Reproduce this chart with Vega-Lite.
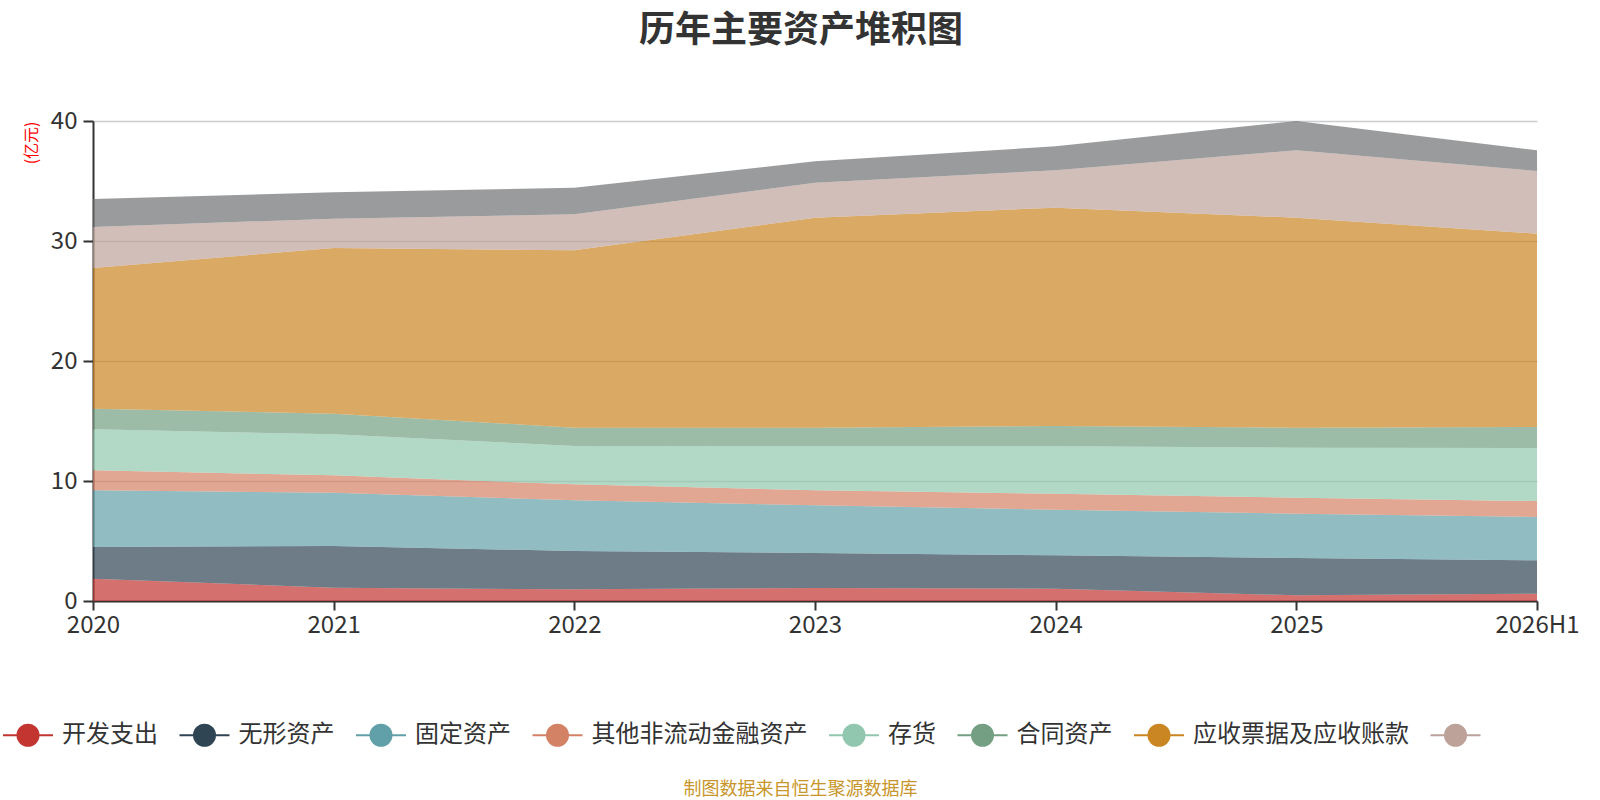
{
  "$schema": "https://vega.github.io/schema/vega-lite/v6.json",
  "autosize": "none",
  "width": 1444,
  "height": 480,
  "padding": {"left": 93, "top": 121, "right": 63, "bottom": 199},
  "background": "white",
  "config": {
    "font": "Noto Sans CJK SC",
    "view": {"stroke": null}
  },
  "title": {
    "text": "历年主要资产堆积图",
    "fontSize": 36,
    "fontWeight": "bold",
    "color": "#333333",
    "anchor": "middle",
    "dx": -14,
    "offset": 59
  },
  "data": {
    "values": [
      {"year": "2020", "item": "开发支出", "value": 1.86},
      {"year": "2020", "item": "无形资产", "value": 2.64},
      {"year": "2020", "item": "固定资产", "value": 4.72},
      {"year": "2020", "item": "其他非流动金融资产", "value": 1.67},
      {"year": "2020", "item": "存货", "value": 3.42},
      {"year": "2020", "item": "合同资产", "value": 1.72},
      {"year": "2020", "item": "应收票据及应收账款", "value": 11.72},
      {"year": "2020", "item": "交易性金融资产", "value": 3.42},
      {"year": "2020", "item": "货币资金", "value": 2.33},
      {"year": "2021", "item": "开发支出", "value": 1.11},
      {"year": "2021", "item": "无形资产", "value": 3.47},
      {"year": "2021", "item": "固定资产", "value": 4.45},
      {"year": "2021", "item": "其他非流动金融资产", "value": 1.44},
      {"year": "2021", "item": "存货", "value": 3.42},
      {"year": "2021", "item": "合同资产", "value": 1.72},
      {"year": "2021", "item": "应收票据及应收账款", "value": 13.81},
      {"year": "2021", "item": "交易性金融资产", "value": 2.44},
      {"year": "2021", "item": "货币资金", "value": 2.2},
      {"year": "2022", "item": "开发支出", "value": 0.97},
      {"year": "2022", "item": "无形资产", "value": 3.2},
      {"year": "2022", "item": "固定资产", "value": 4.22},
      {"year": "2022", "item": "其他非流动金融资产", "value": 1.33},
      {"year": "2022", "item": "存货", "value": 3.2},
      {"year": "2022", "item": "合同资产", "value": 1.52},
      {"year": "2022", "item": "应收票据及应收账款", "value": 14.78},
      {"year": "2022", "item": "交易性金融资产", "value": 3.0},
      {"year": "2022", "item": "货币资金", "value": 2.22},
      {"year": "2023", "item": "开发支出", "value": 1.08},
      {"year": "2023", "item": "无形资产", "value": 2.92},
      {"year": "2023", "item": "固定资产", "value": 3.97},
      {"year": "2023", "item": "其他非流动金融资产", "value": 1.25},
      {"year": "2023", "item": "存货", "value": 3.67},
      {"year": "2023", "item": "合同资产", "value": 1.55},
      {"year": "2023", "item": "应收票据及应收账款", "value": 17.5},
      {"year": "2023", "item": "交易性金融资产", "value": 2.92},
      {"year": "2023", "item": "货币资金", "value": 1.78},
      {"year": "2024", "item": "开发支出", "value": 1.03},
      {"year": "2024", "item": "无形资产", "value": 2.78},
      {"year": "2024", "item": "固定资产", "value": 3.8},
      {"year": "2024", "item": "其他非流动金融资产", "value": 1.33},
      {"year": "2024", "item": "存货", "value": 3.95},
      {"year": "2024", "item": "合同资产", "value": 1.69},
      {"year": "2024", "item": "应收票据及应收账款", "value": 18.2},
      {"year": "2024", "item": "交易性金融资产", "value": 3.11},
      {"year": "2024", "item": "货币资金", "value": 2.0},
      {"year": "2025", "item": "开发支出", "value": 0.47},
      {"year": "2025", "item": "无形资产", "value": 3.11},
      {"year": "2025", "item": "固定资产", "value": 3.7},
      {"year": "2025", "item": "其他非流动金融资产", "value": 1.33},
      {"year": "2025", "item": "存货", "value": 4.17},
      {"year": "2025", "item": "合同资产", "value": 1.66},
      {"year": "2025", "item": "应收票据及应收账款", "value": 17.5},
      {"year": "2025", "item": "交易性金融资产", "value": 5.62},
      {"year": "2025", "item": "货币资金", "value": 2.44},
      {"year": "2026H1", "item": "开发支出", "value": 0.61},
      {"year": "2026H1", "item": "无形资产", "value": 2.78},
      {"year": "2026H1", "item": "固定资产", "value": 3.61},
      {"year": "2026H1", "item": "其他非流动金融资产", "value": 1.33},
      {"year": "2026H1", "item": "存货", "value": 4.42},
      {"year": "2026H1", "item": "合同资产", "value": 1.75},
      {"year": "2026H1", "item": "应收票据及应收账款", "value": 16.11},
      {"year": "2026H1", "item": "交易性金融资产", "value": 5.22},
      {"year": "2026H1", "item": "货币资金", "value": 1.73}
    ]
  },
  "transform": [
    {"calculate": "indexof(['开发支出', '无形资产', '固定资产', '其他非流动金融资产', '存货', '合同资产', '应收票据及应收账款', '交易性金融资产', '货币资金'], datum.item)", "as": "stackOrder"}
  ],
  "mark": {"type": "area", "opacity": 0.7, "interpolate": "linear"},
  "encoding": {
    "x": {
      "field": "year",
      "type": "ordinal",
      "scale": {"type": "point", "padding": 0},
      "axis": {
        "title": "制图数据来自恒生聚源数据库",
        "titleFontSize": 18,
        "titleFontWeight": "normal",
        "titleColor": "#c8962a",
        "titleX": 707,
        "titleY": 188,
        "titleAlign": "center",
        "titleBaseline": "middle",
        "labelAngle": 0,
        "labelFontSize": 24,
        "labelColor": "#333333",
        "labelPadding": 3,
        "labelOverlap": false,
        "domainColor": "#333333",
        "domainWidth": 2,
        "tickColor": "#333333",
        "tickWidth": 2,
        "tickSize": 9,
        "grid": false
      }
    },
    "y": {
      "field": "value",
      "type": "quantitative",
      "stack": "zero",
      "scale": {"domain": [0, 40], "nice": false},
      "axis": {
        "title": "(亿元)",
        "titleFontSize": 16,
        "titleFontWeight": "normal",
        "titleColor": "#ff0000",
        "titleAngle": -90,
        "titleX": -62,
        "titleY": 0,
        "titleAlign": "right",
        "titleBaseline": "middle",
        "values": [0, 10, 20, 30, 40],
        "labelFontSize": 24,
        "labelColor": "#333333",
        "labelPadding": 6,
        "domainColor": "#333333",
        "domainWidth": 2,
        "tickColor": "#333333",
        "tickWidth": 2,
        "tickSize": 10,
        "grid": true,
        "gridColor": "#cccccc",
        "gridWidth": 1.5
      }
    },
    "order": {"field": "stackOrder", "type": "quantitative", "sort": "ascending"},
    "color": {
      "field": "item",
      "type": "nominal",
      "sort": ["开发支出", "无形资产", "固定资产", "其他非流动金融资产", "存货", "合同资产", "应收票据及应收账款", "交易性金融资产", "货币资金"],
      "scale": {
        "domain": ["开发支出", "无形资产", "固定资产", "其他非流动金融资产", "存货", "合同资产", "应收票据及应收账款", "交易性金融资产", "货币资金"],
        "range": ["#c23531", "#2f4554", "#61a0a8", "#d48265", "#91c7ae", "#749f83", "#ca8622", "#bda29a", "#6e7074"]
      },
      "legend": {
        "orient": "none",
        "direction": "horizontal",
        "legendX": -91,
        "legendY": 588,
        "title": null,
        "padding": 0,
        "values": ["开发支出", "无形资产", "固定资产", "其他非流动金融资产", "存货", "合同资产", "应收票据及应收账款", "交易性金融资产"],
        "labelExpr": "datum.label == '交易性金融资产' ? '' : datum.label",
        "symbolType": "M-1,0L1,0M0.42,0A0.42,0.42,0,1,1,-0.42,0A0.42,0.42,0,1,1,0.42,0Z",
        "symbolSize": 2500,
        "symbolOpacity": 1,
        "symbolStrokeWidth": 2,
        "labelFontSize": 24,
        "labelColor": "#333333",
        "labelOffset": 8,
        "labelLimit": 0,
        "columnPadding": 17.5,
        "encode": {
          "symbols": {
            "update": {
              "stroke": {"scale": "color", "field": "value"},
              "strokeWidth": {"value": 2},
              "opacity": {"value": 1}
            }
          }
        }
      }
    }
  }
}
